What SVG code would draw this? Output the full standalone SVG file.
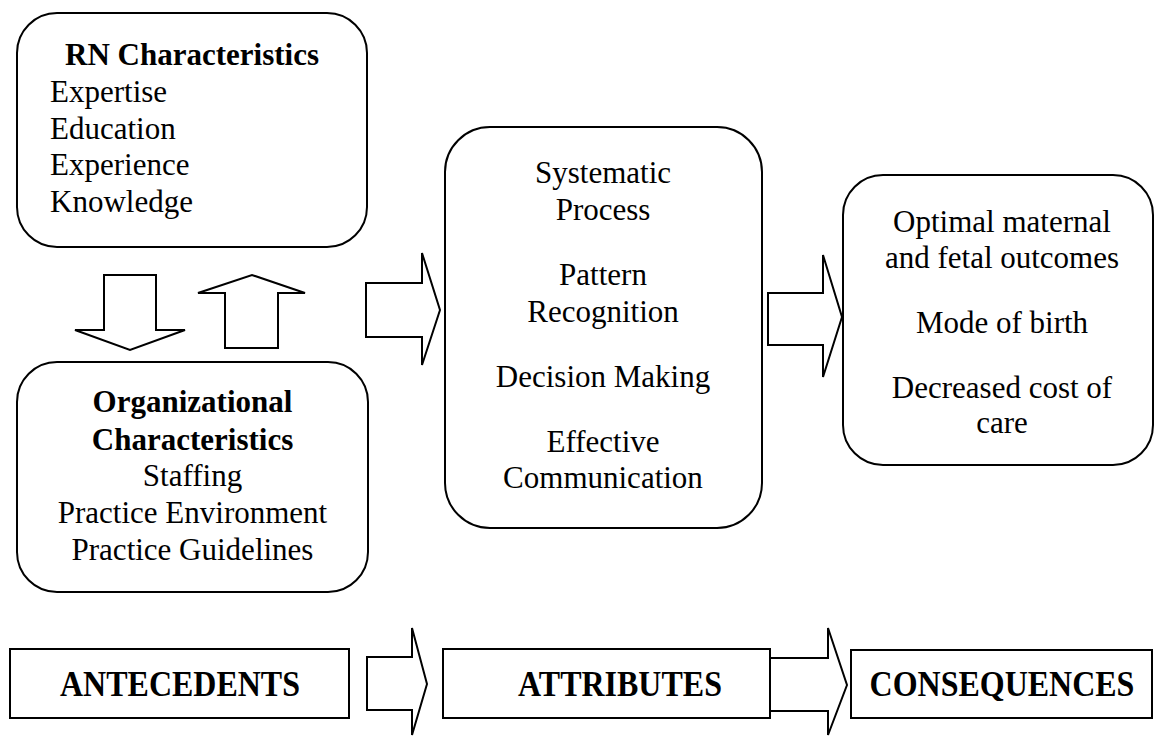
<svg xmlns="http://www.w3.org/2000/svg" width="1154" height="736" viewBox="0 0 1154 736">
<style>
.box{fill:#fff;stroke:#000;stroke-width:2}
.arr{fill:#fff;stroke:#000;stroke-width:2;stroke-linejoin:miter}
text{font-family:"Liberation Serif","Times New Roman",serif;font-size:31px;fill:#000}
.b{font-weight:bold}
.c{text-anchor:middle}
.lab{font-weight:bold;font-size:32px;text-anchor:middle}
</style>
<rect width="1154" height="736" fill="#fff"/>
<g id="connectors">
<polygon class="arr" points="104,275 156,275 156,330 185,330 130,350 75,330 104,330"/>
<polygon class="arr" points="225,348 225,293 198,293 252,275 305,293 278,293 278,348"/>
<polygon class="arr" points="366,283 422,283 422,253 440,310 422,365 422,337 366,337"/>
<polygon class="arr" points="768,293 823,293 823,255 842,317 823,377 823,345 768,345"/>
<polygon class="arr" points="367,657 412,657 412,628 427,684 412,735 412,710 367,710"/>
<polygon class="arr" points="770,658 828,658 828,628 847,685 828,735 828,711 770,711"/>
</g>
<g id="rn">
<rect class="box" x="17" y="13" width="350" height="234" rx="40"/>
<text class="b c" x="192" y="65">RN Characteristics</text>
<text x="50" y="102">Expertise</text>
<text x="50" y="139">Education</text>
<text x="50" y="175">Experience</text>
<text x="50" y="212">Knowledge</text>
</g>
<g id="org">
<rect class="box" x="17" y="362" width="351" height="230" rx="40"/>
<text class="b c" x="192.5" y="412">Organizational</text>
<text class="b c" x="192.5" y="450">Characteristics</text>
<text class="c" x="192.5" y="486">Staffing</text>
<text class="c" x="192.5" y="523">Practice Environment</text>
<text class="c" x="192.5" y="560">Practice Guidelines</text>
</g>
<g id="attributes">
<rect class="box" x="445" y="127" width="317" height="401" rx="45"/>
<text class="c" x="603" y="183">Systematic</text>
<text class="c" x="603" y="220">Process</text>
<text class="c" x="603" y="285">Pattern</text>
<text class="c" x="603" y="322">Recognition</text>
<text class="c" x="603" y="387">Decision Making</text>
<text class="c" x="603" y="452">Effective</text>
<text class="c" x="603" y="488">Communication</text>
</g>
<g id="consequences">
<rect class="box" x="843" y="175" width="310" height="290" rx="40"/>
<text class="c" x="1002" y="232">Optimal maternal</text>
<text class="c" x="1002" y="268">and fetal outcomes</text>
<text class="c" x="1002" y="333">Mode of birth</text>
<text class="c" x="1002" y="398">Decreased cost of</text>
<text class="c" x="1002" y="433">care</text>
</g>
<g id="label-antecedents">
<rect class="box" x="10" y="649" width="339" height="69"/>
<text class="lab" transform="translate(180,696) scale(1,1.15)">ANTECEDENTS</text>
</g>
<g id="label-attributes">
<rect class="box" x="443" y="649" width="327" height="69"/>
<text class="lab" transform="translate(620,696) scale(1,1.15)">ATTRIBUTES</text>
</g>
<g id="label-consequences">
<rect class="box" x="851" y="650" width="301" height="68"/>
<text class="lab" transform="translate(1002,696) scale(1,1.15)">CONSEQUENCES</text>
</g>
</svg>
